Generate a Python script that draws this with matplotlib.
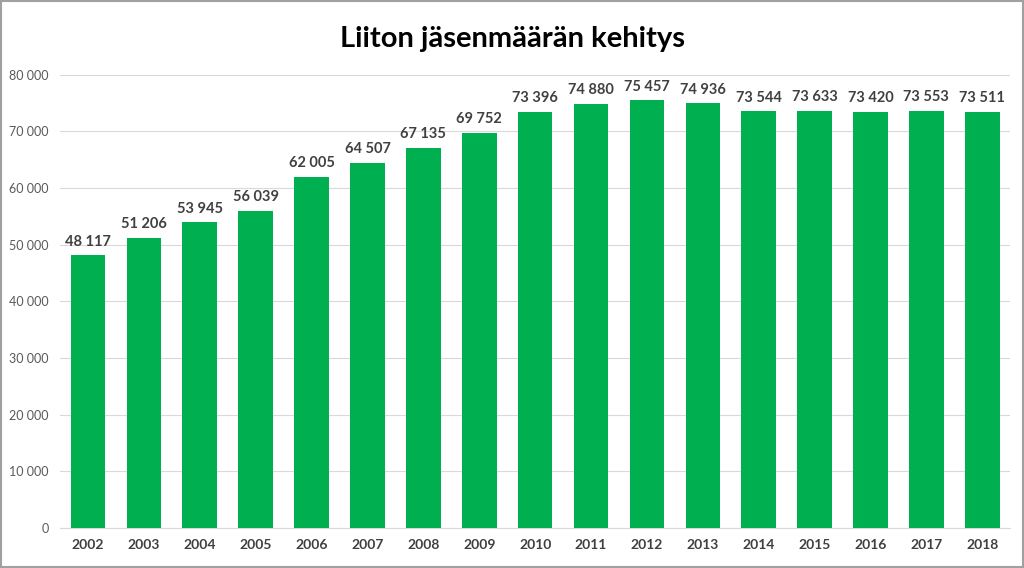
import matplotlib.pyplot as plt
from matplotlib.patches import Rectangle

vuodet = ['2002', '2003', '2004', '2005', '2006', '2007', '2008', '2009', '2010',
          '2011', '2012', '2013', '2014', '2015', '2016', '2017', '2018']
jasenet = [48117, 51206, 53945, 56039, 62005, 64507, 67135, 69752, 73396,
           74880, 75457, 74936, 73544, 73633, 73420, 73553, 73511]
y_ticks = [0, 10000, 20000, 30000, 40000, 50000, 60000, 70000, 80000]

def fmt(v):
    return f'{v:,}'.replace(',', ' ')

plt.rcParams['font.family'] = 'Lato'
fig = plt.figure(figsize=(10.24, 5.68), dpi=100)
fig.patches.append(Rectangle((0.001, 0.001), 0.998, 0.998, transform=fig.transFigure,
                             fill=False, edgecolor='#a0a0a0', linewidth=1.5))
ax = fig.add_axes([0.0586, 0.0704, 0.928, 0.798])

x = range(len(vuodet))
ax.bar(x, jasenet, width=0.62, color='#00B050', zorder=3)
for i, v in enumerate(jasenet):
    ax.text(i, v + 1200, fmt(v), ha='center', va='bottom', fontsize=10.5,
            fontweight='bold', color='#404040')

ax.set_ylim(0, 80000)
ax.set_xlim(-0.5, len(vuodet) - 0.5)
ax.set_yticks(y_ticks)
ax.set_yticklabels([fmt(t) for t in y_ticks], fontsize=9, color='#595959')
ax.set_xticks(list(x))
ax.set_xticklabels(vuodet, fontsize=10, fontweight='bold', color='#404040')
ax.grid(axis='y', color='#d9d9d9', linewidth=0.8, zorder=0)
for s in ['top', 'right', 'left']:
    ax.spines[s].set_visible(False)
ax.spines['bottom'].set_color('#d9d9d9')
ax.tick_params(length=0, pad=8)
fig.suptitle('Liiton jäsenmäärän kehitys', y=0.955, fontsize=21, fontweight='bold')

fig.savefig('out.png', dpi=100)
